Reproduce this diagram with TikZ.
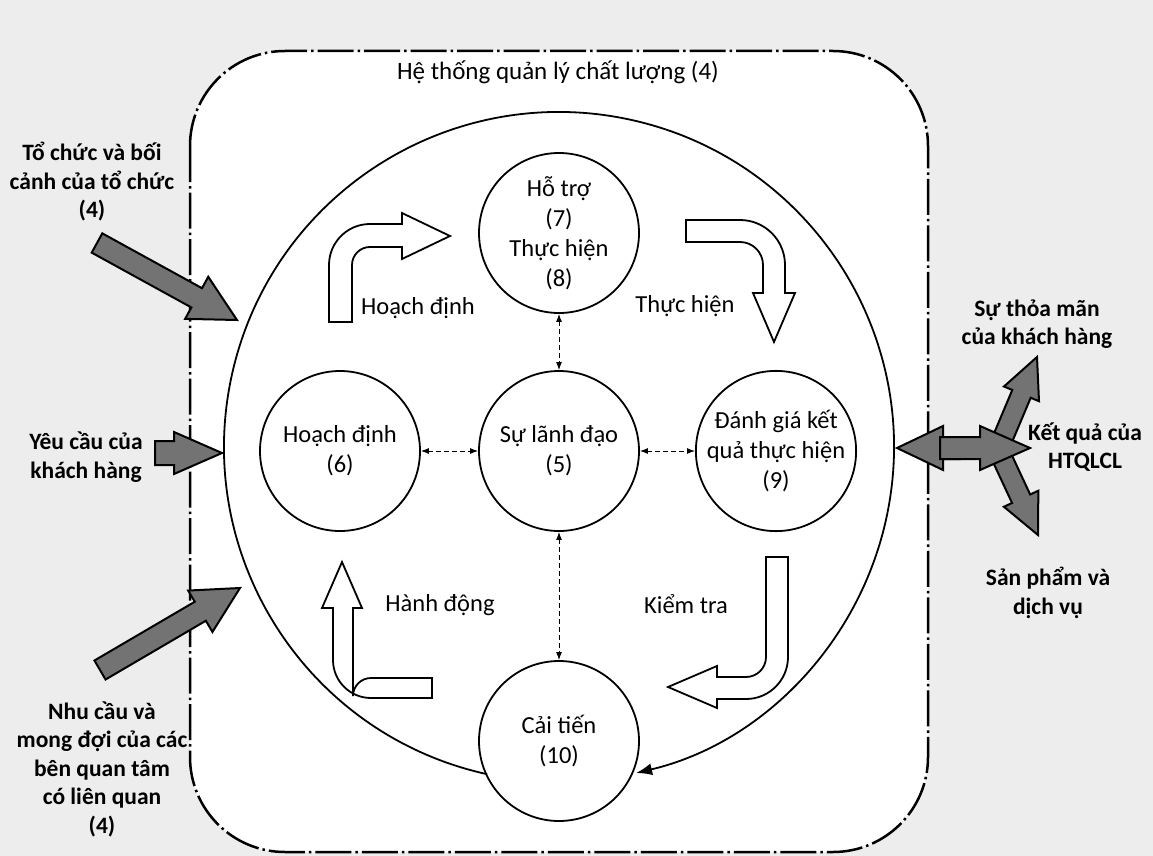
\documentclass[tikz,border=0pt]{standalone}
\usepackage{fontspec}
\setmainfont{Carlito}
\usetikzlibrary{calc,arrows.meta}
\newcommand\garrow[6][blockg]{%
  \path (#2) coordinate (ga-a) (#3) coordinate (ga-b);
  \path ($(ga-b)!#6!(ga-a)$) coordinate (ga-h);
  \draw[#1] ($(ga-a)!#4!90:(ga-b)$) -- ($(ga-h)!#4!90:(ga-b)$) -- ($(ga-h)!#5!90:(ga-b)$)
    -- (ga-b) -- ($(ga-h)!#5!-90:(ga-b)$) -- ($(ga-h)!#4!-90:(ga-b)$) -- ($(ga-a)!#4!-90:(ga-b)$) -- cycle;
}
\begin{document}
\begin{tikzpicture}[x=1pt,y=-1pt,
  circ/.style={circle,draw,line width=1.8pt,minimum size=160pt,inner sep=0pt,align=center,font=\fontsize{24.5}{30}\selectfont},
  lbl/.style={align=center,font=\fontsize{24.5}{30}\selectfont},
  outl/.style={align=center,font=\bfseries\fontsize{23.5}{28.5}\selectfont},
  dconn/.style={line width=1pt,dash pattern=on 5pt off 3pt,{Latex[length=8pt,width=6pt]}-{Latex[length=8pt,width=6pt]}},
  blockw/.style={draw,fill=white,line width=1.8pt,line join=miter},
  blockg/.style={draw,fill=black!55,line width=2pt,line join=miter},
  border/.style={line width=2.5pt,dash pattern=on 36pt off 4pt on 2.5pt off 4pt}
]
\useasboundingbox (0,0) rectangle (1153,856);
\fill[black!7] (0,0) rectangle (1153,856);
\draw[border,fill=white,rounded corners=95pt] (190,51) rectangle (928,852);

\node[lbl,font=\fontsize{25}{30}\selectfont] (title) at (558,72) {Hệ thống quản lý chất lượng (4)};

% big cycle
\draw[line width=1.8pt,-{Latex[length=16pt,width=12pt]}] (559,447) ++(102.4:335) arc[start angle=102.4,end angle=436.7,radius=335];

% circles
\node[circ] (n78) at (559,233) {Hỗ trợ\\(7)\\Thực hiện\\(8)};
\node[circ] (n5) at (559,451) {Sự lãnh đạo\\(5)};
\node[circ] (n6) at (340,451) {Hoạch định\\(6)};
\node[circ] (n9) at (776,451) {Đánh giá kết\\quả thực hiện\\(9)};
\node[circ] (n10) at (559,741) {Cải tiến\\(10)};

\draw[dconn] (n6) -- (n5);
\draw[dconn] (n5) -- (n9);
\draw[dconn] (n78) -- (n5);
\draw[dconn] (n5) -- (n10);

% white bent arrows
\draw[blockw] (329,322) -- (329,265) arc[start angle=180,end angle=270,radius=41] -- (402,224) -- (402,213) -- (450,236) -- (402,259) -- (402,247) -- (370,247) arc[start angle=270,end angle=180,radius=18] -- (352,322) -- cycle;
\draw[blockw] (686,220) -- (740,220) arc[start angle=270,end angle=360,radius=45] -- (785,293) -- (795,293) -- (774,342) -- (753,293) -- (763,293) -- (763,265) arc[start angle=0,end angle=-90,radius=23] -- (686,242) -- cycle;
\draw[blockw] (766,557) -- (766,657) arc[start angle=0,end angle=90,radius=20] -- (717,677) -- (717,666) -- (668,687) -- (717,708) -- (717,699) -- (746,699) arc[start angle=90,end angle=0,radius=42] -- (788,557) -- cycle;
\draw[blockw] (432,678) -- (371,678) arc[start angle=270,end angle=180,radius=18] -- (353,608) -- (362,608) -- (342,562) -- (322,608) -- (333,608) -- (333,660) arc[start angle=180,end angle=90,radius=38] -- (432,698) -- cycle;

\node[lbl] (lplan) at (418,308) {Hoạch định};
\node[lbl] (ldo) at (685,306) {Thực hiện};
\node[lbl] (lact) at (440,605) {Hành động};
\node[lbl] (lcheck) at (686,604) {Kiểm tra};

% left input arrows
\garrow{97,243}{237,320}{11pt}{24pt}{46pt}
\garrow{155,453}{222,453}{12pt}{21pt}{48pt}
\garrow{100,670}{240,588}{11pt}{24pt}{46pt}

% right output arrows
\garrow{997,452}{1037,357}{10pt}{19pt}{40pt}
\garrow{997,447}{1038,535}{10pt}{19pt}{40pt}
\garrow{960,448}{897,448}{11pt}{22pt}{46pt}
\garrow{940,448}{1030,448}{11pt}{22pt}{50pt}

% outside labels
\node[outl] (in1) at (92,182) {Tổ chức và bối\\cảnh của tổ chức\\(4)};
\node[outl] (in2) at (86,457) {Yêu cầu của\\khách hàng};
\node[outl] (in3) at (102,769) {Nhu cầu và\\mong đợi của các\\bên quan tâm\\có liên quan\\(4)};
\node[outl] (out1) at (1037,324) {Sự thỏa mãn\\của khách hàng};
\node[outl] (out2) at (1085,447) {Kết quả của\\HTQLCL};
\node[outl] (out3) at (1048,593) {Sản phẩm và\\dịch vụ};
\end{tikzpicture}
\end{document}
